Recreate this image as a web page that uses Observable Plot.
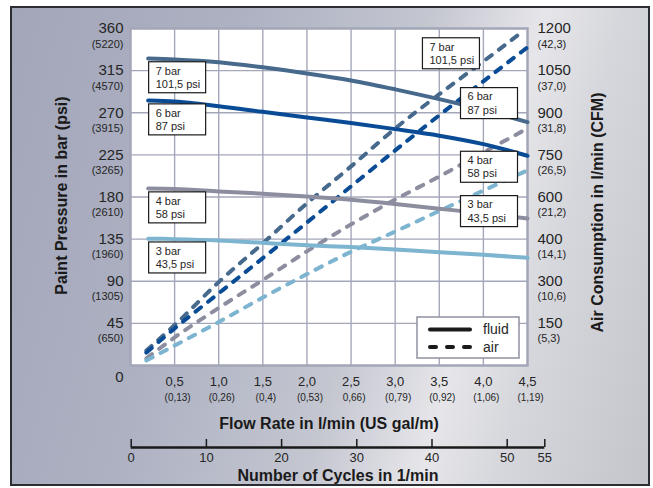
<!DOCTYPE html>
<html><head><meta charset="utf-8">
<script src="https://cdn.jsdelivr.net/npm/d3@7"></script>
<script src="https://cdn.jsdelivr.net/npm/@observablehq/plot@0.6"></script>
<style>
html,body{margin:0;padding:0;background:#fff;}
#wrap{position:relative;width:653px;height:488px;overflow:hidden;font-family:"Liberation Sans",Arial,sans-serif;}
#bg{position:absolute;left:10px;top:6px;width:636px;height:476px;border:2px solid #2c2d33;
 background:linear-gradient(105deg,#a2a6b9 0%,#adb1c2 30%,#c4c6d0 55%,#e6e6ea 70%,#d6d7dc 80%,#c4c5cc 100%);}
#main,#cyc{position:absolute;left:0;}
#main{top:0;}
#cyc{top:430px;}
</style></head>
<body><div id="wrap"><div id="bg"></div><div id="main"></div><div id="cyc"></div></div>
<script>
// ---- tick labels ----
const flowTicks = [0.5, 1.0, 1.5, 2.0, 2.5, 3.0, 3.5, 4.0, 4.5];
const flowTickLabels = ["0,5", "1,0", "1,5", "2,0", "2,5", "3,0", "3,5", "4,0", "4,5"];
const galTickLabels = ["(0,13)", "(0,26)", "(0,4)", "(0,53)", "0,66)", "(0,79)", "(0,92)", "(1,06)", "(1,19)"];
const barTicks = [45, 90, 135, 180, 225, 270, 315, 360];
const psiLabels = ["(650)", "(1305)", "(1960)", "(2610)", "(3265)", "(3915)", "(4570)", "(5220)"];
const airTicks = [150, 300, 400, 600, 750, 900, 1050, 1200];
const cfmLabels = ["(5,3)", "(10,6)", "(14,1)", "(21,2)", "(26,5)", "(31,8)", "(37,0)", "(42,3)"];
const cycleTicks = [0, 10, 20, 30, 40, 50, 55];

// ---- series ----
const pressures = ["7 bar", "6 bar", "4 bar", "3 bar"];
const psiNames = ["101,5 psi", "87 psi", "58 psi", "43,5 psi"];
const seriesColors = ["#46698c", "#0a4b96", "#8c8ea0", "#7db4d0"];

// paint pressure (bar) vs flow rate (l/min)
const fluidFlow = [0.2, 0.5, 1.0, 1.5, 2.0, 2.5, 3.0, 3.5, 4.0, 4.5];
const fluid7 = [328, 327, 324, 318.5, 312, 304.5, 295, 284.5, 273, 260];
const fluid6 = [283, 282, 277, 271, 265, 259, 252.5, 245.5, 236.5, 224];
const fluid4 = [189, 188.5, 186, 183.5, 180.5, 177, 172.5, 167.5, 162.5, 157];
const fluid3 = [135.5, 135, 133.6, 131, 128.5, 126.5, 124, 121, 118.3, 115];

// air consumption (l/min) vs flow rate (l/min)
const airFlow7 = [0.18, 0.5, 1.0, 1.5, 2.0, 2.5, 3.0, 3.5, 4.0, 4.42];
const airFlow = [0.18, 0.5, 1.0, 1.5, 2.0, 2.5, 3.0, 3.5, 4.0, 4.5];
const air7 = [53, 144, 297, 390, 570, 709, 844, 966, 1083, 1183];
const air6 = [46, 132, 257, 355, 479, 638, 766, 891, 1012, 1133];
const air4 = [25, 100, 205, 303, 371, 470, 588, 673, 759, 844];
const air3 = [18, 71, 155, 242, 317, 370, 436, 534, 623, 695];

const fluidSeries = [fluid7, fluid6, fluid4, fluid3];
const airSeries = [air7, air6, air4, air3];
const airFlows = [airFlow7, airFlow, airFlow, airFlow];

// right axis is drawn against the left axis grid
const airToBar = d3.scaleLinear([0, ...airTicks], [0, ...barTicks]);

const fluidRows = pressures.flatMap((p, i) => fluidFlow.map((f, j) => ({p, flow: f, bar: fluidSeries[i][j]})));
const airRows = pressures.flatMap((p, i) => airFlows[i].map((f, j) => ({p, flow: f, air: airSeries[i][j]})));

const labelText = i => pressures[i] + "\n" + psiNames[i];
const leftAnchors = pressures.map((p, i) => ({p, flow: fluidFlow[0], bar: fluidSeries[i][0], text: labelText(i)}));
const rightAnchors = pressures.map((p, i) => {
  const n = airFlows[i].length - 1;
  return {p, flow: airFlows[i][n], bar: airToBar(airSeries[i][n]), text: labelText(i)};
});
const rightOffsets = [[-91, 19.7], [-60, 55.5], [-60, 38], [-60, 40.5]];

const txt = "#262626";
const gridColor = "#a4a7b9";

const boxMarks = [];
leftAnchors.forEach(a => boxMarks.push(Plot.text([a], {x: "flow", y: "bar", text: "text", dx: 7.5, dy: 18.5,
  textAnchor: "start", lineAnchor: "middle", fontSize: 11, lineHeight: 1.22, fill: txt})));
rightAnchors.forEach((a, i) => boxMarks.push(Plot.text([a], {x: "flow", y: "bar", text: "text", dx: rightOffsets[i][0], dy: rightOffsets[i][1],
  textAnchor: "start", lineAnchor: "middle", fontSize: 11, lineHeight: 1.22, fill: txt})));

const main = Plot.plot({
  width: 653, height: 488,
  marginLeft: 130, marginRight: 126, marginTop: 28, marginBottom: 123,
  style: {background: "transparent", fontFamily: "Liberation Sans, Arial, sans-serif", overflow: "visible"},
  x: {domain: [0, 4.5], axis: null},
  y: {domain: [0, 360], axis: null},
  color: {domain: pressures, range: seriesColors},
  marks: [
    Plot.frame({fill: "white", stroke: "none"}),
    Plot.ruleX(flowTicks.slice(0, -1), {stroke: gridColor, strokeWidth: 1.4}),
    Plot.ruleY(barTicks.slice(0, -1), {stroke: gridColor, strokeWidth: 1.4}),
    Plot.frame({stroke: "#a3a6b7", strokeWidth: 2.5}),
    Plot.line(airRows, {x: "flow", y: d => airToBar(d.air), z: "p", stroke: "p", strokeWidth: 4,
      strokeDasharray: "7,9", strokeLinecap: "round", curve: "monotone-x"}),
    Plot.line(fluidRows, {x: "flow", y: "bar", z: "p", stroke: "p", strokeWidth: 4, curve: "monotone-x"}),
    ...boxMarks,
    // left axis
    Plot.text(barTicks, {frameAnchor: "left", y: d => d, text: d => String(d), dx: -7, textAnchor: "end", lineAnchor: "middle", fontSize: 15, fill: txt}),
    Plot.text(barTicks, {frameAnchor: "left", y: d => d, text: (d, i) => psiLabels[i], dx: -7, dy: 15.5, textAnchor: "end", lineAnchor: "middle", fontSize: 11, fill: txt}),
    Plot.text([0], {frameAnchor: "left", y: d => d, text: d => String(d), dx: -7, dy: 12, textAnchor: "end", lineAnchor: "middle", fontSize: 15, fill: txt}),
    // right axis
    Plot.text(airTicks, {frameAnchor: "right", y: d => airToBar(d), text: d => String(d), dx: 10, textAnchor: "start", lineAnchor: "middle", fontSize: 15, fill: txt}),
    Plot.text(airTicks, {frameAnchor: "right", y: d => airToBar(d), text: (d, i) => cfmLabels[i], dx: 10, dy: 15.5, textAnchor: "start", lineAnchor: "middle", fontSize: 11, fill: txt}),
    // bottom axis
    Plot.text(flowTicks, {x: d => d, frameAnchor: "bottom", text: (d, i) => flowTickLabels[i], dy: 16, textAnchor: "middle", lineAnchor: "middle", fontSize: 13, fill: txt}),
    Plot.text(flowTicks, {x: d => d, frameAnchor: "bottom", text: (d, i) => galTickLabels[i], dx: 3, dy: 32, textAnchor: "middle", lineAnchor: "middle", fontSize: 10, fill: txt}),
    // titles
    Plot.text(["Flow Rate in l/min (US gal/m)"], {frameAnchor: "bottom", text: d => d, dy: 58.5, textAnchor: "middle", lineAnchor: "middle", fontSize: 16, fontWeight: "bold", fill: "#1a1a1a"}),
    Plot.text(["Paint Pressure in bar (psi)"], {frameAnchor: "left", text: d => d, rotate: -90, dx: -68.5, dy: -1.5, textAnchor: "middle", lineAnchor: "middle", fontSize: 16, fontWeight: "bold", fill: "#1a1a1a"}),
    Plot.text(["Air Consumption in l/min (CFM)"], {frameAnchor: "right", text: d => d, rotate: -90, dx: 70.5, dy: 15.5, textAnchor: "middle", lineAnchor: "middle", fontSize: 16, fontWeight: "bold", fill: "#1a1a1a"})
  ]
});
document.getElementById("main").appendChild(main);

// white label boxes behind the two-line labels
Array.from(main.querySelectorAll("text")).filter(t => /^\d bar/.test(t.textContent)).forEach(t => {
  const b = t.getBBox();
  const r = document.createElementNS("http://www.w3.org/2000/svg", "rect");
  r.setAttribute("x", b.x - 7);
  r.setAttribute("y", b.y + b.height / 2 - 15.5);
  r.setAttribute("width", 57);
  r.setAttribute("height", 31);
  r.setAttribute("fill", "white");
  r.setAttribute("stroke", "#1a1a1a");
  r.setAttribute("stroke-width", 1.2);
  const tr = t.getAttribute("transform");
  if (tr) r.setAttribute("transform", tr);
  t.parentNode.insertBefore(r, t);
});

// legend
const lg = d3.select(main).append("g").attr("text-anchor", "start");
lg.append("rect").attr("x", 417).attr("y", 317).attr("width", 102).attr("height", 41)
  .attr("fill", "white").attr("stroke", "#8f91a0").attr("stroke-width", 1.5);
lg.append("line").attr("x1", 430).attr("x2", 470).attr("y1", 329.5).attr("y2", 329.5)
  .attr("stroke", "#1a1a1a").attr("stroke-width", 4).attr("stroke-linecap", "round");
lg.append("line").attr("x1", 430).attr("x2", 470).attr("y1", 347).attr("y2", 347)
  .attr("stroke", "#1a1a1a").attr("stroke-width", 4).attr("stroke-linecap", "round").attr("stroke-dasharray", "6,11");
lg.append("text").attr("x", 483).attr("y", 329.5).attr("dy", "0.35em").attr("text-anchor", "start").attr("font-size", 14).attr("fill", txt).text("fluid");
lg.append("text").attr("x", 483).attr("y", 347).attr("dy", "0.35em").attr("text-anchor", "start").attr("font-size", 14).attr("fill", txt).text("air");

// cycles axis
const cyc = Plot.plot({
  width: 653, height: 58,
  marginLeft: 130.7, marginRight: 108.7, marginTop: 9, marginBottom: 41,
  style: {background: "transparent", fontFamily: "Liberation Sans, Arial, sans-serif", overflow: "visible"},
  x: {domain: [0, 55], axis: null},
  y: {domain: [0, 1], axis: null},
  marks: [
    Plot.ruleY([0], {x1: 0, x2: 55, stroke: "#1a1a1a", strokeWidth: 2.5}),
    Plot.ruleX(cycleTicks, {y1: 0, y2: 1, stroke: "#1a1a1a", strokeWidth: 1.5}),
    Plot.text(cycleTicks, {x: d => d, y: 0, text: d => String(d), dy: 10.5, textAnchor: "middle", lineAnchor: "middle", fontSize: 13, fill: txt}),
    Plot.text(["Number of Cycles in 1/min"], {frameAnchor: "bottom", text: d => d, dy: 28, textAnchor: "middle", lineAnchor: "middle", fontSize: 16, fontWeight: "bold", fill: "#1a1a1a"})
  ]
});
document.getElementById("cyc").appendChild(cyc);
</script>
</body></html>
